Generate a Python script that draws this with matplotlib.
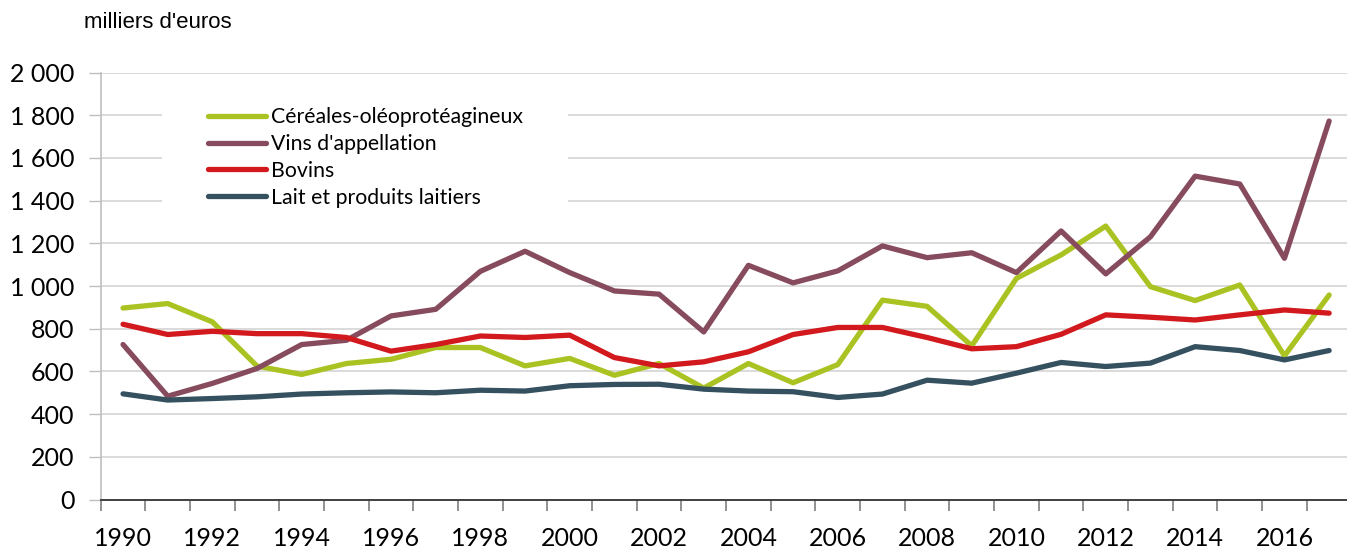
import numpy as np
import matplotlib
matplotlib.use('Agg')
import matplotlib.pyplot as plt
from matplotlib.patches import Rectangle
from matplotlib.ticker import FuncFormatter, FixedLocator

# values (milliers d'euros)
years = list(range(1990, 2018))
cereales = [897, 918, 832, 625, 586, 637, 657, 712, 712, 626,
            661, 582, 637, 522, 637, 547, 632, 934, 905,
            720, 1036, 1146, 1281, 997, 932, 1005, 673, 958]
vins = [726, 484, 544, 614, 726, 746, 860, 891, 1069, 1163,
        1063, 977, 962, 785, 1097, 1015, 1071, 1188, 1133,
        1156, 1063, 1258, 1057, 1231, 1515, 1478, 1130, 1773]
bovins = [821, 773, 788, 777, 777, 759, 695, 726, 766, 759,
          770, 665, 626, 645, 692, 773, 806, 806, 759,
          706, 716, 774, 865, 854, 841, 865, 888, 873]
lait = [495, 466, 473, 481, 494, 500, 504, 500, 512, 508,
        533, 539, 540, 517, 508, 505, 478, 494, 559,
        545, 592, 642, 623, 639, 716, 698, 654, 698]

labels = ["Céréales-oléoprotéagineux", "Vins d'appellation", "Bovins",
          "Lait et produits laitiers"]
colors = ['#abc322', '#874b5e', '#d2191d', '#35505f']

plt.rcParams['font.family'] = ['Lato', 'DejaVu Sans']

W, H = 1347, 548
fig = plt.figure(figsize=(W / 100, H / 100), dpi=100)
ax = fig.add_axes([100.7 / W, (H - 499.5) / H, 1 - 100.7 / W, (499.5 - 72.6) / H])

x = np.arange(len(years))
for series, lab, col in zip([cereales, vins, bovins, lait], labels, colors):
    ax.plot(x, series, color=col, lw=3.8, label=lab,
            solid_capstyle='round', solid_joinstyle='round', zorder=2)

ax.set_xlim(-0.5, 27.4)
ax.set_ylim(0, 2000)

# y axis
ax.set_yticks(range(0, 2001, 200))
ax.yaxis.set_major_formatter(FuncFormatter(lambda v, p: f"{int(v):,}".replace(",", " ")))
ax.tick_params(axis='y', length=9, width=1, color='#bfbfbf', pad=10, labelsize=18)
ax.grid(axis='y', color='#d4d4d4', lw=1.2)
ax.set_axisbelow(True)

# x axis: ticks between categories, labels on every other year
ax.xaxis.set_major_locator(FixedLocator(np.arange(-0.5, 28, 1)))
ax.xaxis.set_minor_locator(FixedLocator(x[::2]))
ax.xaxis.set_major_formatter(plt.NullFormatter())
ax.xaxis.set_minor_formatter(FuncFormatter(lambda v, p: str(years[int(round(v))])))
ax.tick_params(axis='x', which='major', length=8, width=1.2, color='#7f7f7f')
ax.tick_params(axis='x', which='minor', length=0, pad=20, labelsize=18)

for s in ['top', 'right']:
    ax.spines[s].set_visible(False)
ax.spines['left'].set_color('#bfbfbf')
ax.spines['left'].set_linewidth(1.2)
ax.spines['bottom'].set_color('#404040')
ax.spines['bottom'].set_linewidth(1.4)

# white area behind the legend hides the gridlines
ax.add_patch(Rectangle((162 / W, 1 - 225 / H), (568 - 162) / W, (225 - 88) / H,
                       transform=fig.transFigure, facecolor='white',
                       edgecolor='none', zorder=1))
ax.legend(loc='center left', bbox_to_anchor=(208 / W, 1 - 157.5 / H),
          bbox_transform=fig.transFigure, frameon=False, fontsize=15.3,
          handlelength=2.75, handletextpad=0.2, labelspacing=0.32,
          borderpad=0, borderaxespad=0)

fig.text(84 / W, 1 - 23 / H, "milliers d'euros", family='Liberation Sans',
         fontsize=16, va='center', ha='left')

fig.savefig('out.png', dpi=100)
